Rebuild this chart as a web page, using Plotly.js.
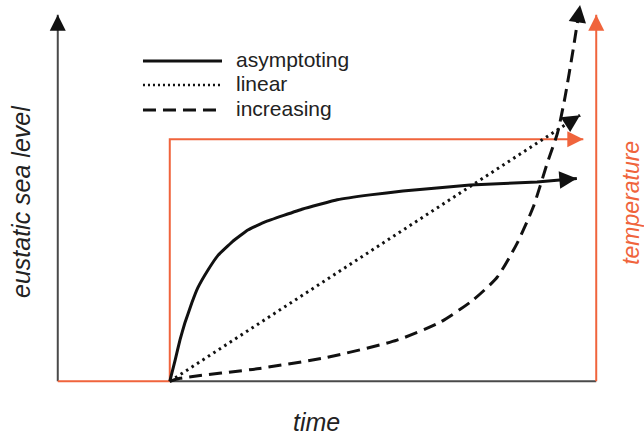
<!DOCTYPE html>
<html>
<head>
<meta charset="utf-8">
<script src="https://cdn.plot.ly/plotly-3.0.1.min.js"></script>
<style>html,body{margin:0;padding:0;background:#fff;}#chart{width:644px;height:436px;}</style>
</head>
<body>
<div id="chart"></div>
<script>
// Schematic data (time units on x, level units on y)
const stepT = [0, 2.08, 2.08, 9.76];
const stepTemp = [0, 0, 6.35, 6.35];
const asymT = [2.08, 2.18, 2.27, 2.36, 2.49, 2.60, 2.79, 2.98, 3.24, 3.53, 3.85, 4.55, 5.19, 5.80, 6.41, 7.04, 7.66, 8.90, 9.64];
const asymLevel = [0, 0.56, 1.09, 1.53, 2.06, 2.45, 2.92, 3.31, 3.66, 3.97, 4.18, 4.52, 4.76, 4.89, 4.99, 5.07, 5.15, 5.23, 5.32];
const linT = [2.08, 9.70];
const linLevel = [0, 6.98];
const incT = [2.08, 2.27, 3.75, 5.0, 6.30, 7.10, 7.71, 8.16, 8.53, 8.83, 9.09, 9.28, 9.42, 9.57, 9.70];
const incLevel = [0, 0.08, 0.34, 0.63, 1.08, 1.55, 2.13, 2.73, 3.62, 4.57, 5.72, 6.51, 7.45, 8.69, 9.87];
const axisTop = 9.61;
const timeEnd = 10;
const legendNames = ['asymptoting', 'linear', 'increasing'];
const axisLabels = {y: 'eustatic sea level', x: 'time', y2: 'temperature'};

const ORANGE = '#f0643c';
const AXIS = '#4a4a4a';
const BLACK = '#111111';
const FONT = 'Liberation Sans, Arial, sans-serif';

const traces = [
  {x: [0, 0], y: [0, axisTop], mode: 'lines', line: {color: AXIS, width: 2}},
  {x: [stepT[1], timeEnd], y: [0, 0], mode: 'lines', line: {color: AXIS, width: 2}},
  {x: [timeEnd, timeEnd], y: [0, axisTop], mode: 'lines', line: {color: ORANGE, width: 2}},
  {x: stepT, y: stepTemp, mode: 'lines', line: {color: ORANGE, width: 2}},
  {x: linT, y: linLevel, mode: 'lines', line: {color: BLACK, width: 3, dash: '2.5px,4px'}},
  {x: incT, y: incLevel, mode: 'lines', line: {color: BLACK, width: 3, dash: '13px,7px', shape: 'spline', smoothing: 0.6}},
  {x: asymT, y: asymLevel, mode: 'lines', line: {color: BLACK, width: 3, shape: 'spline', smoothing: 0.25}}
];

function arrowFrom(xs, ys, color, width, size) {
  const n = xs.length;
  const dx = xs[n - 1] - xs[n - 2], dy = ys[n - 1] - ys[n - 2];
  const len = Math.hypot(dx, dy);
  const k = 0.15 / len;
  return {
    x: xs[n - 1], y: ys[n - 1], ax: xs[n - 1] - dx * k, ay: ys[n - 1] - dy * k,
    xref: 'x', yref: 'y', axref: 'x', ayref: 'y', text: '', showarrow: true,
    font: {size: 1}, borderpad: 0,
    arrowhead: 2, arrowsize: size, arrowwidth: width, arrowcolor: color, standoff: 0
  };
}

const annotations = [
  arrowFrom([0, 0], [0, axisTop], BLACK, 2, 1.6),
  arrowFrom([timeEnd, timeEnd], [0, axisTop], ORANGE, 2, 1.6),
  arrowFrom(stepT, stepTemp, ORANGE, 2, 1.6),
  arrowFrom(asymT, asymLevel, BLACK, 2.5, 1.4),
  arrowFrom(linT, linLevel, BLACK, 2.5, 1.4),
  arrowFrom(incT, incLevel, BLACK, 2.5, 1.4),
  {x: -0.0464, y: 0.4807, xref: 'paper', yref: 'paper', text: '<i>' + axisLabels.y + '</i>', showarrow: false, textangle: -90,
   font: {family: FONT, size: 25, color: '#222'}, xanchor: 'center', yanchor: 'middle'},
  {x: 0.482, y: -0.085, xref: 'paper', yref: 'paper', text: '<i>' + axisLabels.x + '</i>', showarrow: false,
   font: {family: FONT, size: 25, color: '#222'}, xanchor: 'center', yanchor: 'middle'},
  {x: 1.0425, y: 0.478, xref: 'paper', yref: 'paper', text: '<i>' + axisLabels.y2 + '</i>', showarrow: false, textangle: -90,
   font: {family: FONT, size: 23, color: ORANGE}, xanchor: 'center', yanchor: 'middle'}
];

const legendY = [0.8432, 0.7815, 0.7172];
const legendDash = ['solid', '2px,3px', '13px,7px'];
const legendWidth = [3, 2.5, 3];
const shapes = [];
legendNames.forEach((nm, i) => {
  shapes.push({type: 'line', xref: 'paper', yref: 'paper', x0: 0.1714, x1: 0.3125, y0: legendY[i], y1: legendY[i],
    line: {color: BLACK, width: legendWidth[i], dash: legendDash[i]}});
  annotations.push({x: 0.334, y: legendY[i] + 0.004, xref: 'paper', yref: 'paper', text: nm, showarrow: false,
    xanchor: 'left', yanchor: 'middle', font: {family: FONT, size: 21, color: '#222'}});
});

const layout = {
  width: 644, height: 436,
  margin: {l: 47, r: 37, t: 0, b: 47},
  paper_bgcolor: '#fff', plot_bgcolor: '#fff',
  showlegend: false,
  xaxis: {range: [-0.2, 10.2], visible: false, fixedrange: true},
  yaxis: {range: [-0.2, 10], visible: false, fixedrange: true},
  annotations: annotations,
  shapes: shapes
};

Plotly.newPlot('chart', traces, layout, {staticPlot: true, displayModeBar: false});
</script>
</body>
</html>
